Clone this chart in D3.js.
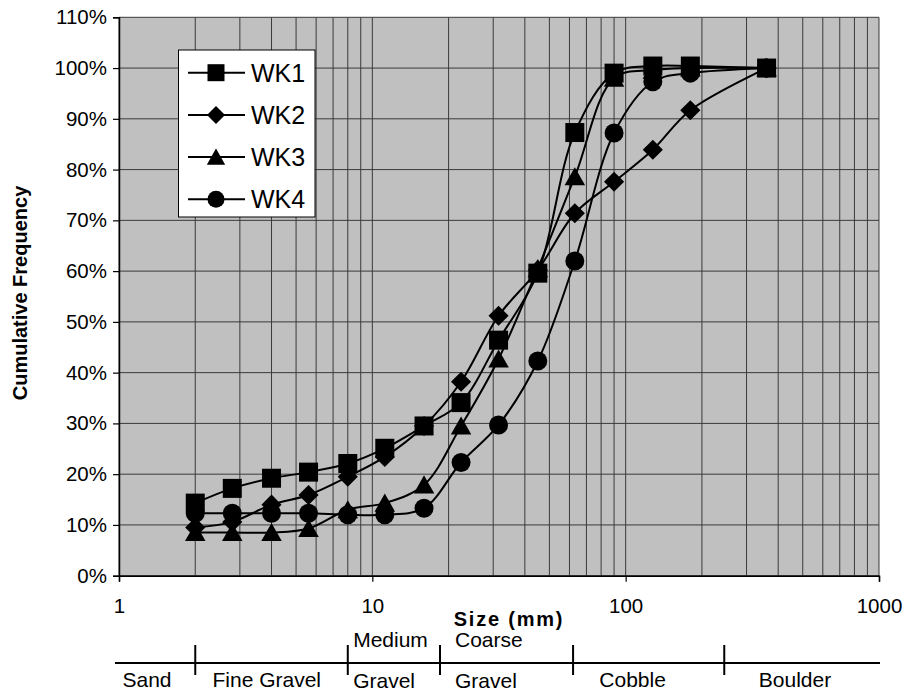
<!DOCTYPE html>
<html><head><meta charset="utf-8">
<script src="https://cdn.jsdelivr.net/npm/d3@7"></script>
<style>body{margin:0;background:#fff}svg{display:block;font-family:Arial,"Liberation Sans",sans-serif}</style>
</head><body><svg id="c" width="907" height="694"></svg>
<script>
const sizes = [2, 2.8, 4, 5.6, 8, 11.2, 16, 22.4, 31.5, 45, 63, 90, 128, 180, 360];
const wk1 = [14.3, 17.2, 19.2, 20.4, 22.1, 25.1, 29.5, 34.1, 46.4, 59.6, 87.3, 99.0, 100.4, 100.4, 100];
const wk2 = [9.5, 10.6, 14.0, 15.9, 19.5, 23.4, 29.5, 38.2, 51.2, 60.2, 71.4, 77.6, 83.9, 91.7, 100];
const wk3 = [8.5, 8.5, 8.5, 9.3, 13.0, 14.3, 17.9, 29.5, 42.7, 60.5, 78.6, 98.0, 99.6, 100, 100];
const wk4 = [12.3, 12.3, 12.3, 12.3, 12.0, 12.0, 13.3, 22.3, 29.7, 42.3, 62.0, 87.2, 97.3, 99.0, 100];
const seriesNames = ["WK1", "WK2", "WK3", "WK4"];
const seriesShapes = ["square", "diamond", "triangle", "circle"];
const xTicks = [1, 10, 100, 1000];
const yTicks = [0, 10, 20, 30, 40, 50, 60, 70, 80, 90, 100, 110];
const classNames = [["Sand"], ["Fine Gravel"], ["Medium", "Gravel"], ["Coarse", "Gravel"], ["Cobble"], ["Boulder"]];
const classBounds = [2, 8, 18.5, 62, 245];
const classLabelX = [1.29, 3.83, 8.4, 21.2, 106.5, 466];
const classAlign = ["middle", "middle", "start", "start", "middle", "middle"];

const svg = d3.select("#c");
const L = 119, R = 879, T = 17.3, B = 575.7;
const x = d3.scaleLog().domain([1, 1000]).range([L, R]);
const y = d3.scaleLinear().domain([0, 110]).range([B, T]);

svg.append("rect").attr("x", L).attr("y", T).attr("width", R - L).attr("height", B - T).attr("fill", "#c0c0c0");

// grid
const g = svg.append("g");
const minor = [];
for (let d = 1; d < 1000; d *= 10) for (let k = 1; k <= 10; k++) minor.push(d * k);
g.selectAll("line.v").data(Array.from(new Set(minor))).join("line")
  .attr("x1", d => x(d)).attr("x2", d => x(d)).attr("y1", T).attr("y2", B)
  .attr("stroke", "#3a3a3a").attr("stroke-width", 1);
g.selectAll("line.h").data(yTicks).join("line")
  .attr("x1", L).attr("x2", R).attr("y1", d => y(d)).attr("y2", d => y(d))
  .attr("stroke", "#3a3a3a").attr("stroke-width", 1);

// axes
const ya = svg.append("g").attr("transform", `translate(${L},0)`)
  .call(d3.axisLeft(y).tickValues(yTicks).tickSize(6).tickPadding(6).tickFormat(d => d + "%"));
const xa = svg.append("g").attr("transform", `translate(0,${B})`)
  .call(d3.axisBottom(x).tickValues(xTicks).tickSize(6).tickPadding(17).tickFormat(d3.format("d")));
[ya, xa].forEach(a => {
  a.select(".domain").attr("stroke", "#000").attr("stroke-width", 1.5);
  a.selectAll(".tick line").attr("stroke", "#000").attr("stroke-width", 1.2);
  a.selectAll("text").attr("font-size", 20.5).attr("fill", "#000").attr("font-family", "Arial, 'Liberation Sans', sans-serif");
});

// titles
svg.append("text").attr("transform", "translate(27,293) rotate(-90)").attr("text-anchor", "middle")
  .attr("font-size", 20).attr("font-weight", "bold").text("Cumulative Frequency");
svg.append("text").attr("x", 509).attr("y", 626).attr("text-anchor", "middle")
  .attr("font-size", 20).attr("font-weight", "bold").attr("letter-spacing", 1.8).text("Size (mm)");

// series
const all = [wk1, wk2, wk3, wk4];
const line = d3.line().x((d, i) => x(sizes[i])).y(d => y(d)).curve(d3.curveCatmullRom.alpha(0.5));
function marker(sel, shape, s) {
  if (shape === "square") sel.append("rect").attr("x", -s/2).attr("y", -s/2).attr("width", s).attr("height", s);
  else if (shape === "circle") sel.append("circle").attr("r", s/2);
  else if (shape === "diamond") { const h = s * 0.53; sel.append("path").attr("d", `M0,${-h}L${h},0L0,${h}L${-h},0Z`); }
  else sel.append("path").attr("d", `M0,${-s*0.5}L${s*0.54},${s*0.45}L${-s*0.54},${s*0.45}Z`);
}
all.forEach((vals, si) => {
  svg.append("path").attr("d", line(vals)).attr("fill", "none").attr("stroke", "#000").attr("stroke-width", 2);
});
all.forEach((vals, si) => {
  vals.forEach((v, i) => {
    const m = svg.append("g").attr("transform", `translate(${x(sizes[i])},${y(v)})`).attr("fill", "#000");
    marker(m, seriesShapes[si], 19);
  });
});

// legend
const lg = svg.append("g");
lg.append("rect").attr("x", 178.5).attr("y", 50).attr("width", 136.5).attr("height", 167)
  .attr("fill", "#fff").attr("stroke", "#000").attr("stroke-width", 1);
seriesNames.forEach((n, i) => {
  const cy = 72.7 + i * 42.2;
  lg.append("line").attr("x1", 188).attr("x2", 245).attr("y1", cy).attr("y2", cy).attr("stroke", "#000").attr("stroke-width", 2);
  const m = lg.append("g").attr("transform", `translate(216,${cy})`).attr("fill", "#000");
  marker(m, seriesShapes[i], 17);
  lg.append("text").attr("x", 251).attr("y", cy + 9).attr("font-size", 25).text(n);
});

// size classes
const cg = svg.append("g");
cg.append("line").attr("x1", 115).attr("x2", 880).attr("y1", 663).attr("y2", 663).attr("stroke", "#000").attr("stroke-width", 2);
classBounds.forEach(b => {
  cg.append("line").attr("x1", x(b)).attr("x2", x(b)).attr("y1", 645).attr("y2", 675).attr("stroke", "#000").attr("stroke-width", 2);
});
classNames.forEach((lines, i) => {
  const t = cg.append("text").attr("x", x(classLabelX[i])).attr("text-anchor", classAlign[i]).attr("font-size", 21);
  if (lines.length === 1) t.attr("y", 687).text(lines[0]);
  else {
    t.append("tspan").attr("x", x(classLabelX[i])).attr("y", 647).text(lines[0]);
    t.append("tspan").attr("x", x(classLabelX[i])).attr("y", 688).text(lines[1]);
  }
});
</script></body></html>
